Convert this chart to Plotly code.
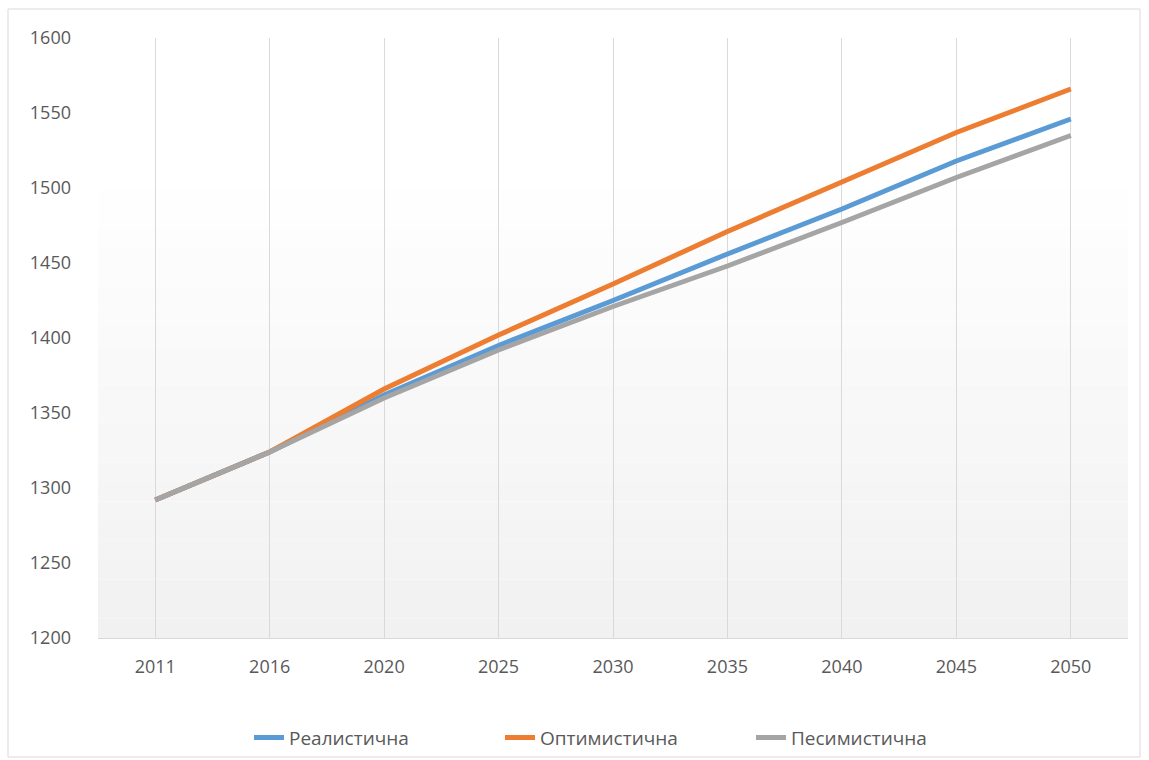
import plotly.graph_objects as go

years = ["2011", "2016", "2020", "2025", "2030", "2035", "2040", "2045", "2050"]
realistic = [1292, 1324, 1362, 1395, 1425, 1456, 1486, 1518, 1546]
optimistic = [1292, 1324, 1366, 1402, 1436, 1471, 1504, 1537, 1566]
pessimistic = [1292, 1324, 1360, 1392, 1421, 1448, 1477, 1507, 1535]
names = ["Реалистична", "Оптимистична", "Песимистична"]
colors = ["#5b9bd5", "#ed7d31", "#a5a5a5"]
yticks = [1200, 1250, 1300, 1350, 1400, 1450, 1500, 1550, 1600]

fig = go.Figure()
for vals, name, col in zip([realistic, optimistic, pessimistic], names, colors):
    fig.add_trace(go.Scatter(x=years, y=vals, mode="lines", name=name,
                             line=dict(color=col, width=5)))

shapes = []
# subtle vertical gradient in the plot area (white at top -> light gray at bottom)
n = 24
for i in range(n):
    y0 = i / n * 0.78
    y1 = (i + 1) / n * 0.78
    t = 1 - (i + 0.5) / n
    g = int(round(255 - 14 * t))
    shapes.append(dict(type="rect", xref="paper", yref="paper", x0=0, x1=1,
                       y0=y0, y1=y1, fillcolor=f"rgb({g},{g},{g})",
                       line=dict(width=0), layer="below"))
# outer chart border
shapes.append(dict(type="rect", xref="paper", yref="paper",
                   x0=(8 - 98) / 1030, x1=(1140 - 98) / 1030,
                   y0=(638 - 757) / 600, y1=(638 - 9) / 600,
                   line=dict(color="#d9d9d9", width=1), fillcolor="rgba(0,0,0,0)"))

fig.update_layout(
    width=1149, height=760,
    margin=dict(l=98, r=21, t=38, b=122, autoexpand=False),
    paper_bgcolor="white", plot_bgcolor="rgba(0,0,0,0)",
    font=dict(family="Open Sans, Noto Sans, sans-serif", size=18, color="#595959"),
    shapes=shapes,
    showlegend=True,
    legend=dict(orientation="h", x=0.1466, xanchor="left", y=-0.166, yanchor="middle",
                font=dict(size=19, color="#595959"), entrywidth=206,
                traceorder="normal", bgcolor="rgba(0,0,0,0)"),
    xaxis=dict(type="category", range=[-0.5, 8.5], showgrid=True,
               gridcolor="#d9d9d9", gridwidth=1,
               showline=True, linecolor="#d9d9d9", linewidth=1,
               ticks="", tickfont=dict(size=18, color="#595959"),
               ticklabelstandoff=12, zeroline=False),
    yaxis=dict(range=[1200, 1600], tickvals=yticks, showgrid=False,
               showline=False, zeroline=False, ticks="",
               tickfont=dict(size=18, color="#595959"), ticklabelstandoff=26),
)

fig.write_html("out.html", config={"displayModeBar": False},
               post_script="document.body.style.margin='0';")
